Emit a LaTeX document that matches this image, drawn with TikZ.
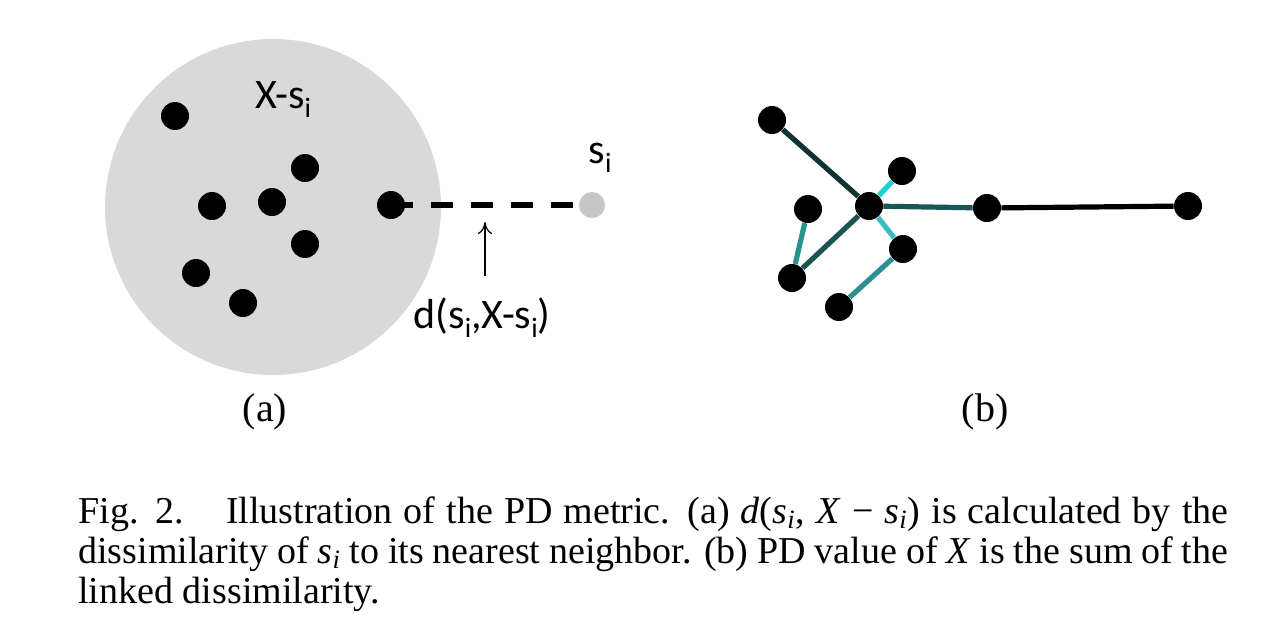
\documentclass[tikz,border=0pt]{standalone}
\usepackage{fontspec}
\setmainfont{Liberation Serif}
\newfontfamily\labelfont{Carlito}
\usetikzlibrary{arrows.meta}

\definecolor{cloudgray}{HTML}{D9D9D9}
\definecolor{pointgray}{HTML}{C6C6C6}
\definecolor{linkdark}{HTML}{0E3333}
\definecolor{linkdeep}{HTML}{1A5454}
\definecolor{linkmid}{HTML}{2A9090}
\definecolor{linklight}{HTML}{3CBDBD}
\definecolor{linkcyan}{HTML}{18D2D8}

\newcommand{\lowsub}[1]{\raisebox{-0.45ex}{\fontsize{14}{14}\selectfont #1}}

\begin{document}
\begin{tikzpicture}[x=0.5pt, y=-0.5pt,
    % Styles
    point/.style={circle, fill=black, inner sep=0pt, minimum size=14pt},
    query/.style={circle, fill=pointgray, inner sep=0pt, minimum size=13pt},
    link/.style={line width=2.6pt},
    gap-line/.style={line width=2.6pt, dash pattern=on 11pt off 9pt},
    pointer/.style={-{To[length=6pt, width=7pt]}, line width=0.6pt},
    tag/.style={font=\labelfont\fontsize{21}{24}\selectfont, inner sep=0pt},
    panel/.style={font=\fontsize{20}{24}\selectfont, inner sep=0pt},
]
\useasboundingbox (0,0) rectangle (1267,623);

% (a): the set X-s_i and the point s_i
\node[circle, fill=cloudgray, minimum size=168pt, inner sep=0pt] (cloud) at (273,207) {};
\node[tag] (setlabel) at (283,100) {X-s\lowsub{i}};

\node[point] (a1) at (175,116) {};
\node[point] (a2) at (305,168) {};
\node[point] (a3) at (212,206) {};
\node[point] (a4) at (272,202) {};
\node[point] (a5) at (305,244) {};
\node[point] (a6) at (196,273) {};
\node[point] (a7) at (243,303) {};
\node[point] (nearest) at (391,205) {};

\node[query] (si) at (592,205) {};
\node[tag] (silabel) at (600,158) {s\lowsub{i}};

\draw[gap-line] (nearest.center) -- (si.west);

\coordinate (gapmid) at (485,222);
\coordinate (gaptail) at (485,276);
\node[tag] (dlabel) at (482,318) {d(s\lowsub{i},X-s\lowsub{i})};
\draw[pointer] (gaptail) -- (gapmid);

\node[panel] (capa) at (265,412) {(a)};

% (b): linked dissimilarity
\node[point] (b1) at (772,120) {};
\node[point] (hub) at (869,206) {};
\node[point] (b2) at (902,171) {};
\node[point] (b3) at (808,209) {};
\node[point] (b4) at (792,278) {};
\node[point] (b5) at (903,249) {};
\node[point] (b6) at (839,307) {};
\node[point] (b7) at (987,208) {};
\node[point] (b8) at (1188,206) {};

\draw[link, linkdark] (b1) -- (hub);
\draw[link, linkcyan] (hub) -- (b2);
\draw[link, linkdeep] (hub) -- (b7);
\draw[link, black] (b7) -- (b8);
\draw[link, linkdeep] (hub) -- (b4);
\draw[link, linkmid] (b3) -- (b4);
\draw[link, linklight] (hub) -- (b5);
\draw[link, linkmid] (b5) -- (b6);

\node[panel] (capb) at (985,412) {(b)};

% Caption
\node[anchor=north west, text width=575pt, align=justify, inner sep=0pt,
      font=\fontsize{19}{20}\selectfont] (caption) at (78,496)
{Fig. 2.\hspace{1.1em}Illustration of the PD metric. (a) \textit{d}(\textit{s}\textsubscript{\textit{i}}, \textit{X} − \textit{s}\textsubscript{\textit{i}}) is calculated by the\linebreak dissimilarity of \textit{s}\textsubscript{\textit{i}} to its nearest neighbor. (b) PD value of \textit{X} is the sum of the\linebreak linked dissimilarity.};

\end{tikzpicture}
\end{document}
